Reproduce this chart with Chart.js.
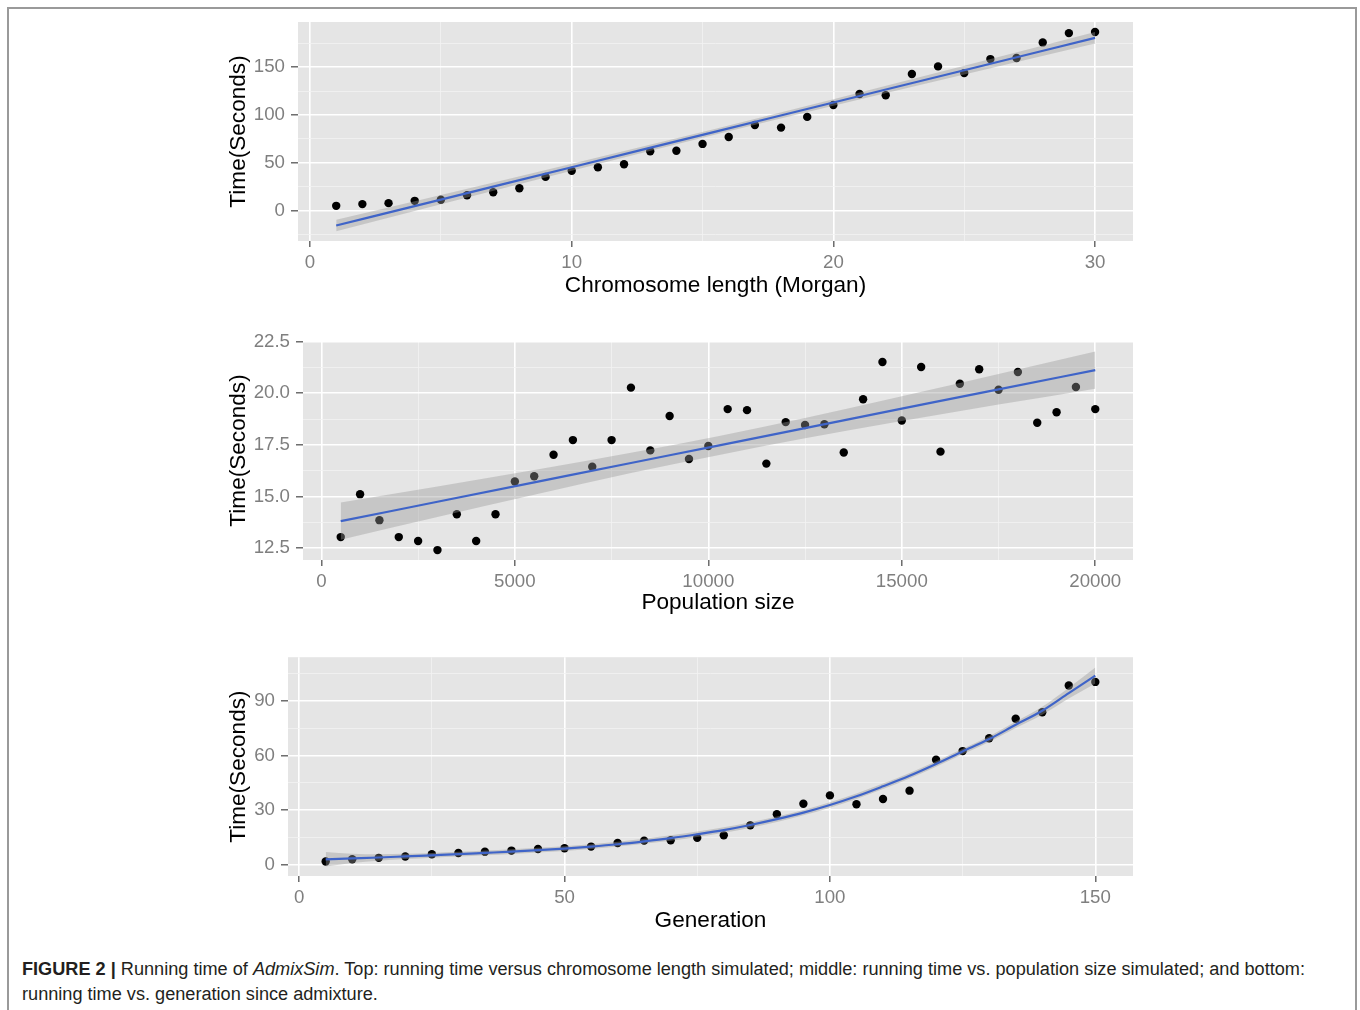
<!DOCTYPE html>
<html><head><meta charset="utf-8">
<script src="https://cdn.jsdelivr.net/npm/chart.js@4.4.1/dist/chart.umd.min.js"></script>
<style>
html,body{margin:0;padding:0;background:#fff;width:1360px;height:1010px;overflow:hidden;position:relative;}
#frame{position:absolute;left:7px;top:7px;width:1350px;height:1100px;border:2px solid #9a9a9a;border-bottom:none;box-sizing:border-box;}
.panel{position:absolute;left:0;width:1360px;}
#caption{position:absolute;left:22px;top:957px;font-family:"Liberation Sans",Arial,sans-serif;font-size:18px;line-height:25px;color:#231f20;white-space:nowrap;transform-origin:0 0;}
#caption b{font-weight:bold;}
</style></head><body>
<div id="frame"></div>
<div class="panel" style="top:0;height:310px"><canvas id="c1"></canvas></div>
<div class="panel" style="top:320px;height:310px"><canvas id="c2"></canvas></div>
<div class="panel" style="top:640px;height:300px"><canvas id="c3"></canvas></div>
<div id="caption"><span id="cap1"><b>FIGURE 2 |</b> Running time of <i>AdmixSim</i>. Top: running time versus chromosome length simulated; middle: running time vs. population size simulated; and bottom:</span><br><span id="cap2">running time vs. generation since admixture.</span></div>
<script>
// ---------- Top panel: chromosome length ----------
const chromLength = [1,2,3,4,5,6,7,8,9,10,11,12,13,14,15,16,17,18,19,20,21,22,23,24,25,26,27,28,29,30];
const chromTime = [5.2,7,8,10.4,11.5,16.3,19.4,23.6,35.4,41.7,45.5,48.6,62.1,62.6,69.8,77,89.6,86.8,98,110.4,121.9,120.5,142.7,150.7,143.7,158.3,159.4,175.7,185.4,186.5];
const chromFitX = [1,5,10,15.5,20,25,30];
const chromFit = [-15.3,11.7,45.5,82.6,113.0,146.7,180.5];
const chromFitLow = [-21.3,6.9,41.9,79.5,109.5,142.1,174.5];
const chromFitHigh = [-9.3,16.5,49.2,85.7,116.5,151.3,186.5];
const chromXTicks = [0,10,20,30];
const chromXTickLabels = ['0','10','20','30'];
const chromXMinor = [5,15,25];
const chromYTicks = [0,50,100,150];
const chromYTickLabels = ['0','50','100','150'];
const chromYMinor = [-25,25,75,125,175];

// ---------- Middle panel: population size ----------
const popSize = [500,1000,1500,2000,2500,3000,3500,4000,4500,5000,5500,6000,6500,7000,7500,8000,8500,9000,9500,10000,10500,11000,11500,12000,12500,13000,13500,14000,14500,15000,15500,16000,16500,17000,17500,18000,18500,19000,19500,20000];
const popTime = [13.03,15.11,13.85,13.03,12.84,12.4,14.14,12.84,14.14,15.72,15.98,17.02,17.73,16.44,17.73,20.27,17.23,18.9,16.81,17.44,19.23,19.18,16.59,18.6,18.46,18.5,17.13,19.71,21.51,18.68,21.27,17.17,20.46,21.16,20.17,21.03,18.57,19.08,20.3,19.23];
const popFitX = [500,3000,5500,8000,10250,12500,15000,17500,20000];
const popFit = [13.80,14.74,15.68,16.62,17.46,18.31,19.25,20.19,21.12];
const popFitLow = [12.90,14.00,15.08,16.13,17.00,17.82,18.65,19.45,20.22];
const popFitHigh = [14.70,15.48,16.28,17.11,17.92,18.80,19.85,20.93,22.02];
const popXTicks = [0,5000,10000,15000,20000];
const popXTickLabels = ['0','5000','10000','15000','20000'];
const popXMinor = [2500,7500,12500,17500];
const popYTicks = [12.5,15,17.5,20,22.5];
const popYTickLabels = ['12.5','15.0','17.5','20.0','22.5'];
const popYMinor = [13.75,16.25,18.75,21.25];

// ---------- Bottom panel: generation ----------
const generation = [5,10,15,20,25,30,35,40,45,50,55,60,65,70,75,80,85,90,95,100,105,110,115,120,125,130,135,140,145,150];
const genTime = [1.65,2.9,3.7,4.4,5.7,6.4,7.1,7.7,8.6,9.0,9.9,11.9,13.2,13.4,14.7,16.1,21.6,27.7,33.5,38.1,33.2,36.1,40.7,57.7,62.5,69.6,80.3,83.9,98.6,100.6];
const genFit = [2.9,3.4,3.9,4.5,5.1,5.7,6.4,7.1,7.9,8.8,9.9,11.2,12.8,14.6,16.7,19.0,21.8,25.0,28.6,32.8,37.6,43.1,48.9,55.4,62.3,69.1,77.0,84.7,94.4,104.1];
const genFitLow = [-1.1,0.8,2.1,3.0,3.8,4.4,5.1,5.8,6.6,7.5,8.6,9.9,11.4,13.1,15.2,17.5,20.3,23.5,27.1,31.3,36.1,41.6,47.4,53.9,60.8,67.5,75.2,82.5,91.4,99.7];
const genFitHigh = [6.9,6.0,5.7,6.0,6.4,7.0,7.7,8.4,9.2,10.1,11.2,12.5,14.2,16.1,18.2,20.5,23.3,26.5,30.1,34.3,39.1,44.6,50.4,56.9,63.8,70.7,78.8,86.9,97.4,108.5];
const genXTicks = [0,50,100,150];
const genXTickLabels = ['0','50','100','150'];
const genXMinor = [25,75,125];
const genYTicks = [0,30,60,90];
const genYTickLabels = ['0','30','60','90'];
const genYMinor = [15,45,75,105];

const FONT = '"Liberation Sans", Arial, sans-serif';
const yTitle = 'Time(Seconds)';

const panelBg = {
  id: 'panelBg',
  beforeDraw(chart) {
    const {ctx, chartArea: a} = chart;
    ctx.save();
    ctx.fillStyle = '#e5e5e5';
    ctx.fillRect(a.left, a.top, a.right - a.left, a.bottom - a.top);
    ctx.restore();
  }
};

function makeAxis(cfg) {
  const {min, max, major, labels, minor, title, horizontal, size, titlePad} = cfg;
  const isMajor = c => c.tick && major.includes(c.tick.value);
  return {
    type: 'linear', min, max, position: horizontal ? 'bottom' : 'left',
    afterBuildTicks: s => {
      s.ticks = major.concat(minor).sort((a, b) => a - b).map(v => ({value: v}));
    },
    afterFit: s => { if (horizontal) s.height = size; else s.width = size; },
    ticks: {
      autoSkip: false, maxRotation: 0, minRotation: 0,
      color: '#7f7f7f', font: {family: FONT, size: 18.7}, padding: horizontal ? 5 : 6,
      callback: v => { const i = major.indexOf(v); return i >= 0 ? labels[i] : ''; }
    },
    grid: {
      color: c => isMajor(c) ? '#ffffff' : '#f2f2f2',
      lineWidth: c => isMajor(c) ? 1.6 : 0.8,
      tickColor: c => isMajor(c) ? '#555555' : 'rgba(0,0,0,0)',
      tickWidth: 1.3, tickLength: horizontal ? 6 : 7, drawTicks: true
    },
    border: {display: false},
    title: {display: true, text: title, color: '#000', font: {family: FONT, size: 22.6}, padding: titlePad}
  };
}

function pts(xs, ys) { return xs.map((x, i) => ({x, y: ys[i]})); }

function makeChart(id, d) {
  return new Chart(document.getElementById(id), {
    type: 'scatter',
    data: {
      datasets: [
        {type: 'scatter', data: pts(d.x, d.y), pointRadius: 4.2, pointBackgroundColor: '#000', pointBorderWidth: 0, order: 3},
        {type: 'line', data: pts(d.fx, d.lo), pointRadius: 0, borderWidth: 0, borderColor: 'rgba(0,0,0,0)', fill: false, cubicInterpolationMode: 'monotone', order: 2},
        {type: 'line', data: pts(d.fx, d.hi), pointRadius: 0, borderWidth: 0, borderColor: 'rgba(0,0,0,0)', fill: '-1', backgroundColor: 'rgba(153,153,153,0.4)', cubicInterpolationMode: 'monotone', order: 2},
        {type: 'line', data: pts(d.fx, d.fit), pointRadius: 0, borderWidth: 2.2, borderColor: '#3f64c8', fill: false, cubicInterpolationMode: 'monotone', order: 1}
      ]
    },
    options: {
      responsive: true, maintainAspectRatio: false, animation: false,
      events: [],
      layout: {padding: d.pad},
      plugins: {legend: {display: false}, tooltip: {enabled: false}},
      scales: {x: d.xAxis, y: d.yAxis}
    },
    plugins: [panelBg]
  });
}

makeChart('c1', {
  x: chromLength, y: chromTime, fx: chromFitX, fit: chromFit, lo: chromFitLow, hi: chromFitHigh,
  pad: {left: 220, right: 227, top: 22, bottom: 0},
  xAxis: makeAxis({min: -0.46, max: 31.45, major: chromXTicks, labels: chromXTickLabels, minor: chromXMinor, title: 'Chromosome length (Morgan)', horizontal: true, size: 69, titlePad: {top: 0, bottom: 11}}),
  yAxis: makeAxis({min: -31.5, max: 197, major: chromYTicks, labels: chromYTickLabels, minor: chromYMinor, title: yTitle, horizontal: false, size: 78, titlePad: {top: 5.5, bottom: 0}})
});

makeChart('c2', {
  x: popSize, y: popTime, fx: popFitX, fit: popFit, lo: popFitLow, hi: popFitHigh,
  pad: {left: 220, right: 227, top: 21, bottom: 0},
  xAxis: makeAxis({min: -475, max: 20975, major: popXTicks, labels: popXTickLabels, minor: popXMinor, title: 'Population size', horizontal: true, size: 70, titlePad: {top: 0, bottom: 14}}),
  yAxis: makeAxis({min: 11.92, max: 22.53, major: popYTicks, labels: popYTickLabels, minor: popYMinor, title: yTitle, horizontal: false, size: 83, titlePad: {top: 5.5, bottom: 0}})
});

makeChart('c3', {
  x: generation, y: genTime, fx: generation, fit: genFit, lo: genFitLow, hi: genFitHigh,
  pad: {left: 220, right: 227, top: 17, bottom: 0},
  xAxis: makeAxis({min: -2.1, max: 157.1, major: genXTicks, labels: genXTickLabels, minor: genXMinor, title: 'Generation', horizontal: true, size: 64, titlePad: {top: 0, bottom: 6}}),
  yAxis: makeAxis({min: -6.3, max: 114.2, major: genYTicks, labels: genYTickLabels, minor: genYMinor, title: yTitle, horizontal: false, size: 68, titlePad: {top: 5.5, bottom: 0}})
});

// fit caption width to the reference line length
(function () {
  const cap = document.getElementById('caption');
  const w = document.getElementById('cap1').getBoundingClientRect().width;
  const target = 1283;
  if (w > 0) cap.style.transform = 'scaleX(' + (target / w).toFixed(4) + ')';
})();
</script>
</body></html>
